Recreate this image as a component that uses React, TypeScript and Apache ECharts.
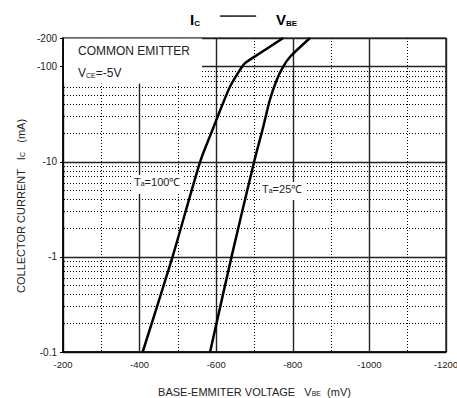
import React, { useEffect, useRef } from "react";
import * as echarts from "echarts";

// Ta = 100°C curve (V_BE in mV, I_C in mA, magnitudes)
const VBE_100 = [-408, -486, -558, -592, -614, -636, -662, -675, -714, -775];
const IC_100 = [0.1, 1, 10, 22.5, 37.9, 61.5, 92.3, 108.6, 138, 200];
// Ta = 25°C curve
const VBE_25 = [-584, -640, -699, -723, -740, -758, -775, -793, -845];
const IC_25 = [0.1, 1, 10, 23.4, 44.6, 72.5, 100, 127, 200];

const Y_LABELS = [0.1, 1, 10, 100, 200];
const Y_MINOR = [
  0.2, 0.3, 0.4, 0.5, 0.6, 0.7, 0.8, 0.9,
  2, 3, 4, 5, 6, 7, 8, 9,
  20, 30, 40, 50, 60, 70, 80, 90,
];

const FONT = "'Liberation Sans', Arial, sans-serif";

// t: main text, s: subscript shifted down by `offset` px relative to main text centre
function subRich(size: number, subSize: number, color: string, offset: number, bold = false, key: "fill" | "color" = "color") {
  const w = bold ? "bold" : "normal";
  const L = size + 2 * offset + 4;
  return {
    t: { fontSize: size, fontFamily: FONT, fontWeight: w, [key]: color, lineHeight: L, verticalAlign: "bottom" },
    s: { fontSize: subSize, fontFamily: FONT, fontWeight: w, [key]: color, lineHeight: L - 2 * offset, verticalAlign: "bottom" },
  };
}

export default function App() {
  const ref = useRef<HTMLDivElement>(null);
  useEffect(() => {
    const chart = echarts.init(ref.current!, null, { renderer: "svg" });
    const dotted = { color: "#000", width: 1, type: [1, 2] as any };
    const option: any = {
      animation: false,
      backgroundColor: "#fff",
      textStyle: { fontFamily: FONT },
      title: {
        left: 185,
        top: -3,
        text: "{t|I}{s|C}    ——    {t|V}{s|BE}",
        textStyle: { rich: subRich(15, 8, "#000", 3, true) },
      },
      grid: {
        left: 63,
        right: 11,
        top: 38,
        bottom: 46,
        show: true,
        borderColor: "#000",
        borderWidth: 1.2,
        containLabel: false,
        outerBoundsMode: "none",
      },
      xAxis: {
        type: "value",
        inverse: true,
        min: -1200,
        max: -200,
        interval: 200,
        axisLine: { show: true, lineStyle: { color: "#000", width: 1.5 } },
        axisTick: { show: false },
        minorTick: { show: false, splitNumber: 2 },
        axisLabel: { fontSize: 9.5, color: "#222", fontFamily: FONT, margin: 7, formatter: (v: number) => String(v) },
        splitLine: { show: true, lineStyle: { color: "#222", width: 1.4 } },
        minorSplitLine: { show: true, lineStyle: dotted },
        name: "{t|BASE-EMMITER VOLTAGE   V}{s|BE}{t|  (mV)}",
        nameLocation: "middle",
        nameGap: 20,
        nameTextStyle: { fontSize: 11, color: "#222", fontFamily: FONT, rich: subRich(11, 7, "#222", 5) },
      },
      yAxis: {
        type: "log",
        logBase: 10,
        min: 0.1,
        max: 200,
        axisLine: { show: true, lineStyle: { color: "#000", width: 1.5 } },
        axisTick: { show: true, length: 3, lineStyle: { color: "#000" } },
        axisLabel: {
          fontSize: 10,
          color: "#222",
          fontFamily: FONT,
          margin: 6,
          customValues: Y_LABELS,
          formatter: (v: number) => "-" + String(+v.toPrecision(6)),
        },
        splitLine: { show: true, lineStyle: { color: "#222", width: 1.4 } },
        name: "{t|COLLECTOR CURRENT   I}{s|C}{t|   (mA)}",
        nameLocation: "middle",
        nameRotate: 90,
        nameGap: 32,
        nameTextStyle: {
          fontSize: 11,
          color: "#222",
          fontFamily: FONT,
          padding: [0, 22, 0, 0],
          rich: subRich(11, 7, "#222", 5),
        },
      },
      series: [
        {
          type: "line",
          data: [],
          z: 1,
          silent: true,
          markLine: {
            silent: true,
            symbol: "none",
            label: { show: false },
            lineStyle: dotted,
            data: Y_MINOR.map((v) => ({ yAxis: v })),
          },
        },
        {
          type: "line",
          z: 5,
          smooth: 0.25,
          showSymbol: false,
          lineStyle: { color: "#000", width: 2.5 },
          data: VBE_100.map((v, i) => [v, IC_100[i]]),
        },
        {
          type: "line",
          z: 5,
          smooth: 0.25,
          showSymbol: false,
          lineStyle: { color: "#000", width: 2.5 },
          data: VBE_25.map((v, i) => [v, IC_25[i]]),
        },
      ],
      graphic: [
        {
          type: "rect",
          z: 100,
          shape: { x: 64, y: 38.6, width: 138, height: 45 },
          style: { fill: "#fff" },
        },
        {
          type: "rect",
          z: 100,
          shape: { x: 133, y: 175, width: 49, height: 19 },
          style: { fill: "#fff" },
        },
        {
          type: "rect",
          z: 100,
          shape: { x: 261, y: 182, width: 44, height: 18 },
          style: { fill: "#fff" },
        },
        {
          type: "text",
          z: 101,
          x: 78,
          y: 45,
          style: { text: "COMMON EMITTER", fontSize: 12, fontFamily: FONT, fill: "#222" },
        },
        {
          type: "text",
          z: 101,
          x: 78,
          y: 57,
          style: { text: "{t|V}{s|CE}{t|=-5V}", rich: subRich(12, 7, "#222", 3, false, "fill") },
        },
        {
          type: "text",
          z: 101,
          x: 134,
          y: 156,
          style: {
            text: "{t|T}{s|a}{t|=100℃}",
            rich: subRich(11, 7, "#222", 8, false, "fill"),
          },
        },
        {
          type: "text",
          z: 101,
          x: 262,
          y: 163,
          style: {
            text: "{t|T}{s|a}{t|=25℃}",
            rich: subRich(11, 7, "#222", 8, false, "fill"),
          },
        },
      ],
    };
    chart.setOption(option);
    return () => chart.dispose();
  }, []);
  return (
    <div
      ref={ref}
      style={{ position: "fixed", left: 0, top: 0, width: 457, height: 398, background: "#fff" }}
    />
  );
}
